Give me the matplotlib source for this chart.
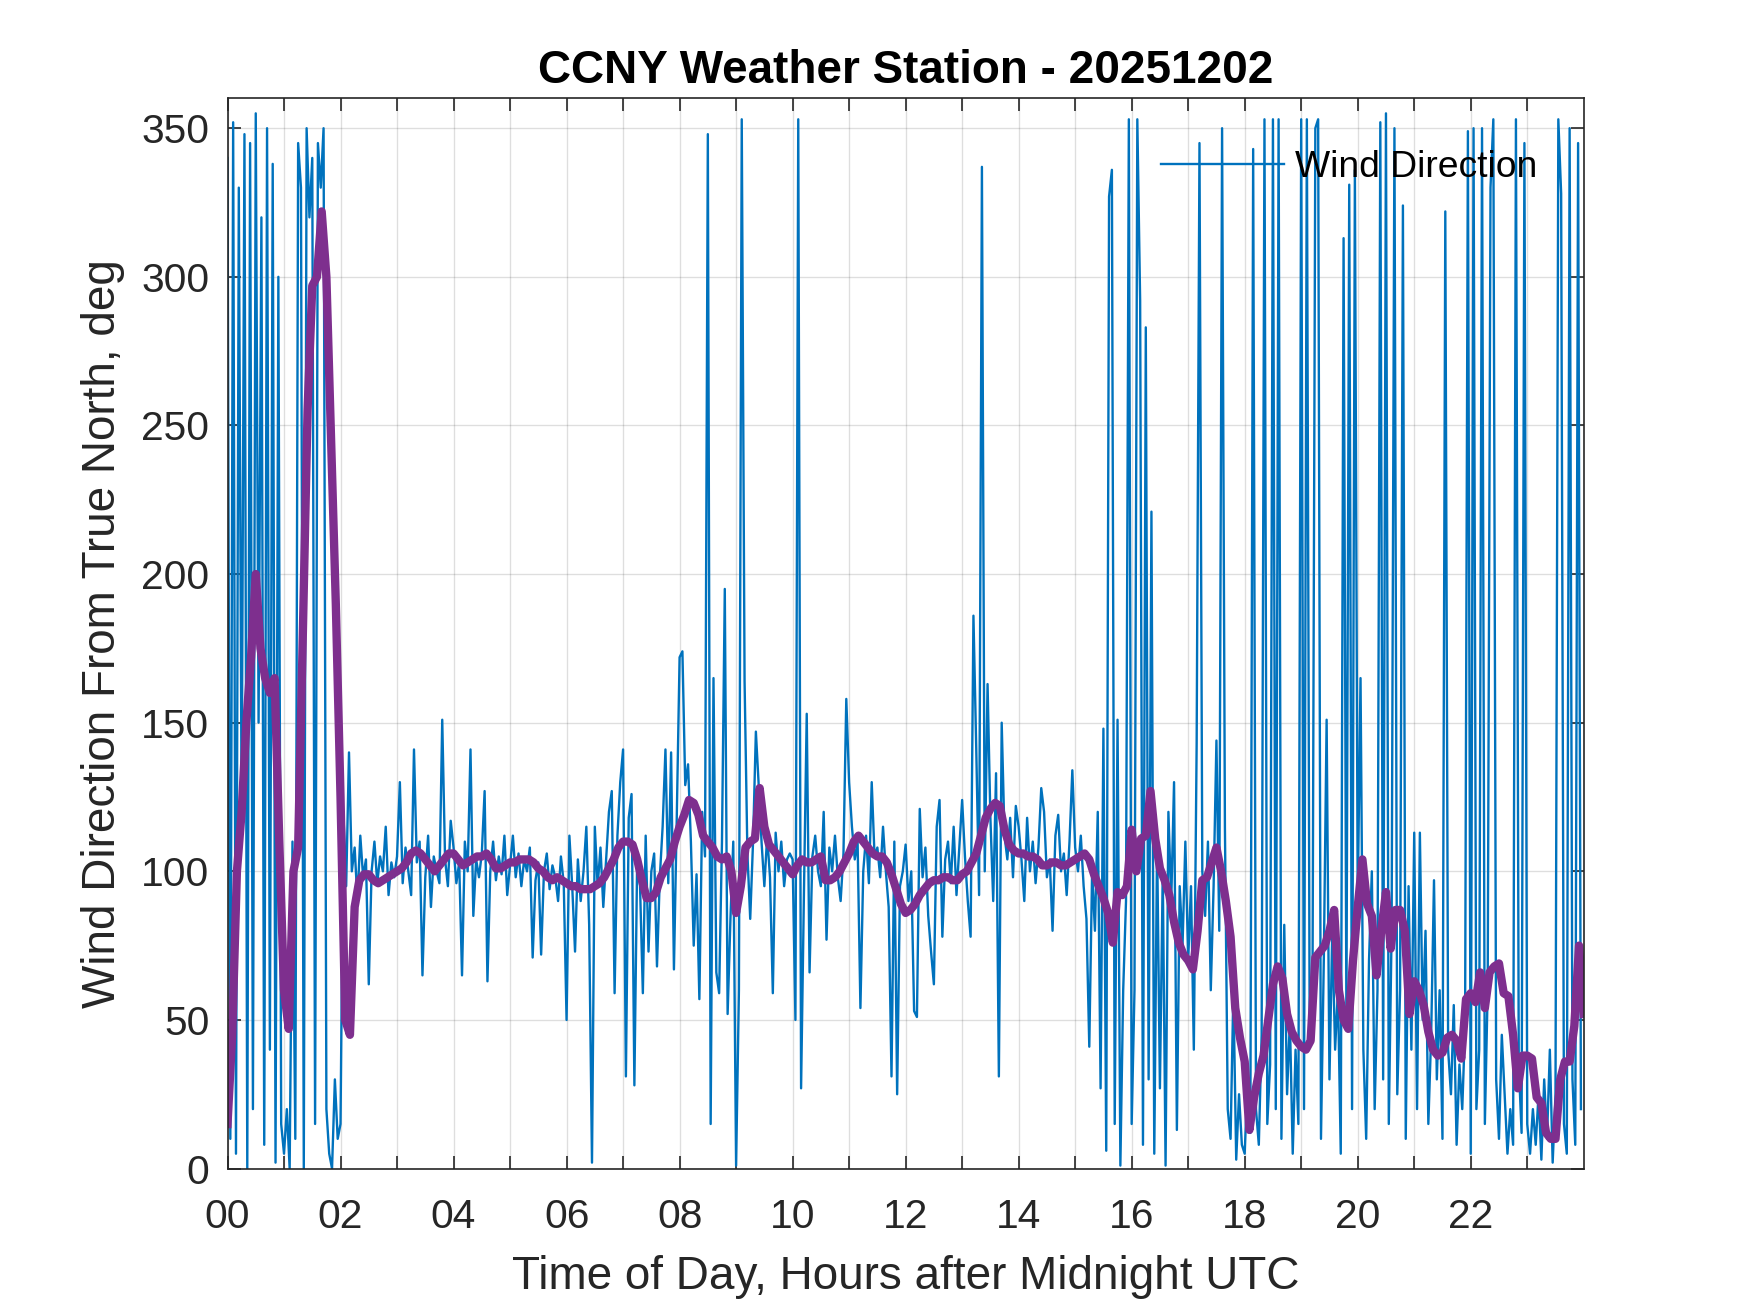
import numpy as np
import matplotlib.pyplot as plt

plt.rcParams['font.family'] = ['Liberation Sans', 'DejaVu Sans']

# raw wind direction, one reading every 3 minutes (20 per hour)
wind_dir = [
    340, 10, 352, 5, 330, 120, 348, 0, 345, 20, 355, 150, 320, 8, 350, 40, 338, 2, 300, 15,
    5, 20, 0, 110, 10, 345, 330, 0, 350, 320, 340, 15, 345, 330, 350, 20, 5, 0, 30, 10,
    15, 120, 95, 140, 100, 108, 90, 112, 98, 104, 62, 100, 110, 96, 105, 100, 115, 92, 103, 98,
    105, 130, 96, 108, 100, 92, 141, 103, 110, 65, 98, 112, 88, 105, 100, 96, 151, 104, 95, 117,
    108, 96, 103, 65, 110, 100, 141, 85, 104, 98, 106, 127, 63, 100, 110, 97, 105, 99, 112, 92,
    102, 112, 98, 106, 95, 104, 100, 108, 71, 97, 103, 72, 100, 106, 94, 102, 98, 90, 105, 96,
    50, 112, 95, 73, 104, 90, 100, 115, 82, 2, 115, 95, 108, 88, 104, 120, 127, 59, 112, 130,
    141, 31, 118, 126, 28, 105, 95, 59, 112, 73, 100, 106, 68, 98, 115, 141, 96, 140, 67, 118,
    172, 174, 129, 136, 110, 75, 99, 57, 120, 105, 348, 15, 165, 66, 59, 110, 195, 52, 84, 110,
    1, 60, 353, 164, 106, 84, 110, 147, 129, 110, 95, 112, 98, 59, 113, 100, 110, 95, 104, 106,
    104, 50, 353, 27, 92, 153, 66, 105, 112, 100, 95, 120, 77, 108, 100, 112, 98, 90, 106, 158,
    130, 115, 104, 110, 54, 100, 112, 96, 130, 105, 108, 98, 115, 100, 88, 31, 110, 25, 95, 100,
    109, 90, 100, 53, 51, 121, 98, 108, 85, 73, 62, 115, 124, 78, 104, 110, 96, 115, 92, 108,
    124, 105, 90, 78, 186, 141, 92, 337, 100, 163, 118, 90, 133, 31, 150, 112, 104, 118, 98, 122,
    115, 104, 90, 118, 100, 110, 96, 108, 128, 120, 98, 104, 80, 112, 119, 100, 106, 92, 110, 134,
    108, 100, 112, 95, 84, 41, 100, 80, 120, 27, 148, 6, 327, 336, 15, 151, 1, 60, 90, 353,
    15, 60, 353, 292, 8, 283, 30, 221, 5, 110, 27, 100, 1, 120, 90, 130, 13, 95, 75, 110,
    70, 95, 40, 143, 345, 100, 85, 110, 60, 95, 144, 80, 350, 115, 20, 10, 60, 3, 25, 8,
    5, 30, 12, 343, 20, 8, 45, 353, 15, 35, 353, 20, 353, 10, 82, 25, 50, 5, 40, 15,
    353, 20, 353, 45, 60, 350, 353, 10, 70, 151, 30, 80, 40, 60, 5, 313, 50, 331, 20, 336,
    90, 165, 40, 10, 70, 100, 20, 60, 352, 30, 355, 15, 80, 350, 25, 60, 324, 10, 95, 40,
    113, 20, 113, 50, 80, 15, 45, 97, 30, 60, 10, 322, 40, 25, 55, 8, 35, 20, 48, 349,
    5, 350, 20, 40, 350, 15, 60, 330, 353, 30, 10, 45, 25, 5, 20, 8, 353, 35, 12, 345,
    15, 5, 20, 8, 25, 3, 30, 10, 40, 2, 25, 353, 328, 15, 5, 350, 30, 8, 345, 20,
]

# smoothed direction (purple), every 5 minutes (12 per hour)
wind_avg = [
    15, 45, 100, 120, 150, 172, 200, 175, 165, 160, 165, 110,
    60, 47, 100, 108, 180, 255, 297, 300, 322, 300, 245, 190,
    125, 50, 45, 88, 97, 99, 99, 97, 96, 97, 98, 99,
    100, 101, 103, 106, 107, 106, 104, 102, 100, 102, 104, 106,
    106, 104, 102, 103, 104, 105, 105, 106, 104, 101, 101, 102,
    103, 103, 104, 104, 104, 103, 101, 100, 98, 97, 98, 97,
    96, 95, 95, 94, 94, 94, 95, 96, 98, 101, 104, 108,
    110, 110, 109, 104, 97, 91, 91, 93, 98, 101, 104, 110,
    115, 119, 124, 123, 119, 112, 110, 108, 105, 104, 105, 100,
    86, 95, 108, 110, 111, 128, 115, 109, 107, 105, 103, 101,
    99, 102, 104, 103, 103, 104, 105, 97, 97, 98, 100, 103,
    106, 110, 112, 110, 108, 106, 105, 105, 103, 99, 94, 89,
    86, 87, 89, 92, 94, 96, 97, 97, 98, 98, 97, 97,
    99, 100, 103, 106, 112, 118, 121, 123, 122, 114, 109, 107,
    106, 106, 105, 105, 104, 102, 102, 103, 103, 102, 102, 103,
    104, 105, 106, 104, 99, 95, 91, 86, 76, 93, 92, 95,
    114, 100, 111, 112, 127, 111, 101, 97, 92, 83, 76, 72,
    70, 67, 80, 97, 98, 103, 108, 100, 90, 78, 54, 44,
    36, 13, 24, 32, 38, 50, 62, 68, 64, 52, 46, 43,
    41, 40, 43, 71, 73, 75, 80, 87, 60, 50, 47, 70,
    88, 104, 89, 85, 65, 80, 93, 74, 87, 87, 80, 52,
    63, 60, 55, 46, 40, 38, 39, 44, 45, 43, 37, 57,
    59, 56, 66, 54, 66, 68, 69, 59, 58, 45, 27, 38,
    38, 37, 24, 22, 12, 10, 10, 30, 36, 36, 48, 75,
    52,
]

hour_ticks = list(range(0, 24))
hour_labels = [f"{h:02d}" if h % 2 == 0 else "" for h in hour_ticks]
deg_ticks = [0, 50, 100, 150, 200, 250, 300, 350]

t_raw = np.arange(len(wind_dir)) / 20
t_avg = np.arange(len(wind_avg)) / 12

fig = plt.figure(figsize=(8.75, 6.565), dpi=200)
ax = fig.add_axes([0.13, 0.11, 0.775, 0.815])

ax.plot(t_raw, wind_dir, color='#0072BD', lw=0.85, label='Wind Direction')
ax.plot(t_avg, wind_avg, color='#7E2F8E', lw=3)

ax.set_xlim(0, 24)
ax.set_ylim(0, 360)
ax.set_xticks(hour_ticks)
ax.set_xticklabels(hour_labels)
ax.set_yticks(deg_ticks)

ax.grid(True, color='#262626', alpha=0.15, lw=0.5)
ax.set_axisbelow(True)
for s in ax.spines.values():
    s.set_color('#262626')
    s.set_linewidth(0.6)
ax.tick_params(direction='in', length=4.7, width=0.6, top=True, right=True,
               labelsize=14.7, colors='#262626')
ax.tick_params(axis='x', pad=10.5)
ax.tick_params(axis='y', pad=6.5)

ax.set_xlabel('Time of Day, Hours after Midnight UTC', fontsize=16.5, color='#262626', labelpad=7)
ax.set_ylabel('Wind Direction From True North, deg', fontsize=16.5, color='#262626', labelpad=6)
ax.set_title('CCNY Weather Station - 20251202', fontsize=16.5, fontweight='bold', pad=5.5)

ax.legend(loc='upper right', bbox_to_anchor=(0.977, 0.966), borderaxespad=0,
          frameon=False, fontsize=13.4, handlelength=3.3, handletextpad=0.3)

fig.savefig('out.png', dpi=200)
